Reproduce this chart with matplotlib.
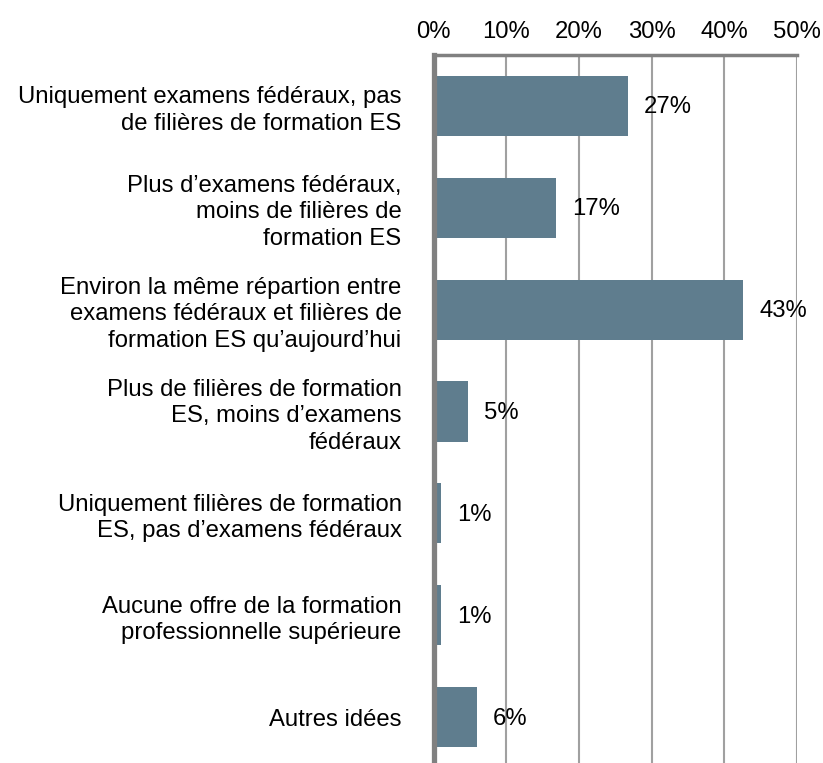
import matplotlib
matplotlib.use("Agg")
import matplotlib.pyplot as plt
from matplotlib.ticker import FuncFormatter

categories = [
    "Uniquement examens fédéraux, pas\nde filières de formation ES",
    "Plus d’examens fédéraux,\nmoins de filières de\nformation ES",
    "Environ la même répartion entre\nexamens fédéraux et filières de\nformation ES qu’aujourd’hui",
    "Plus de filières de formation\nES, moins d’examens\nfédéraux",
    "Uniquement filières de formation\nES, pas d’examens fédéraux",
    "Aucune offre de la formation\nprofessionnelle supérieure",
    "Autres idées",
]
values = [26.7, 16.9, 42.6, 4.7, 1.1, 1.1, 6.0]
value_labels = ["27%", "17%", "43%", "5%", "1%", "1%", "6%"]
xticks = [0, 10, 20, 30, 40, 50]

plt.rcParams['font.family'] = ['Liberation Sans', 'DejaVu Sans']
FS = 17.2

fig = plt.figure(figsize=(8.23, 7.63), dpi=100)
ax = fig.add_axes([433.5/823, -5/763, (797-433.5)/823, (768-55)/763])

y = list(range(len(categories)))
ax.barh(y, values, height=0.59, color="#5f7d8e", zorder=3)
for yi, v, lab in zip(y, values, value_labels):
    ax.text(v + 2.2, yi + 0.015, lab, va="center", ha="left", fontsize=FS, color="black", zorder=4)

ax.set_xlim(0, 50)
ax.set_ylim(len(categories) - 0.5, -0.5)
ax.set_xticks(xticks)
ax.xaxis.set_major_formatter(FuncFormatter(lambda v, p: f"{int(v)}%"))
ax.xaxis.tick_top()
ax.tick_params(axis="x", length=0, pad=9, labelsize=FS)
ax.set_yticks(y)
ax.set_yticklabels(categories, fontsize=FS, linespacing=1.26, ha="right")
for lbl in ax.get_yticklabels():
    lbl.set_y(lbl.get_position()[1])
ax.tick_params(axis="y", length=0, pad=23)

ax.grid(axis="x", color="#a0a0a0", linewidth=1.5, zorder=1)
for s in ["right", "bottom"]:
    ax.spines[s].set_visible(False)
ax.spines["top"].set_color("#808080")
ax.spines["top"].set_linewidth(2.5)
ax.spines["left"].set_color("#808080")
ax.spines["left"].set_linewidth(3.8)
ax.spines["left"].set_zorder(5)

fig.savefig("out.png", dpi=100)
